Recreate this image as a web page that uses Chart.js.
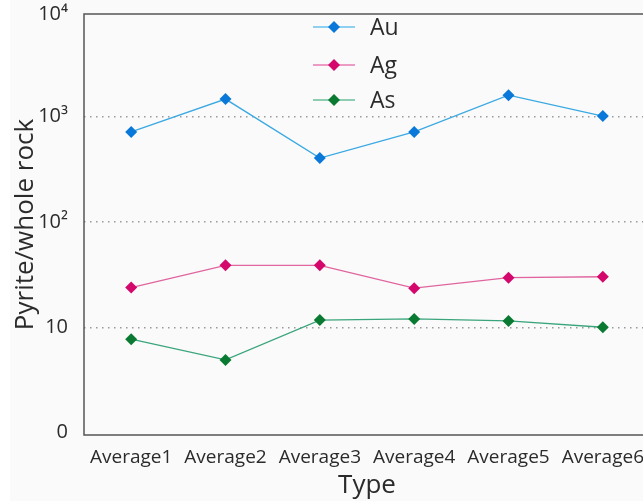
<!DOCTYPE html>
<html>
<head>
<meta charset="utf-8">
<script src="https://cdn.jsdelivr.net/npm/chart.js@4.4.1/dist/chart.umd.min.js"></script>
<style>
  html, body { margin: 0; padding: 0; background: #ffffff; overflow: hidden; }
  #wrap { position: absolute; left: 10px; top: 0; width: 680px; height: 501px; background: #fafafa; }
</style>
</head>
<body>
<div id="wrap"><canvas id="myChart" width="680" height="501"></canvas></div>
<script>
// data
const categories = ["Average1", "Average2", "Average3", "Average4", "Average5", "Average6"];
const auValues = [716, 1470, 405, 716, 1600, 1015];
const agValues = [23.8, 38.8, 38.8, 23.5, 29.6, 30.2];
const asValues = [7.7, 4.9, 11.7, 12.0, 11.5, 10.0];
const yTickValues = [1, 10, 100, 1000];
const yTickLabels = ["0", "10", "10\u00B2", "10\u00B3", "10\u2074"];
const gridValues = [10, 100, 1000];

const FONT = "'Open Sans', sans-serif";
const TXT = "#2b2b2b";

// frame around the plot area (left, bottom, top; right is cut off)
const framePlugin = {
    id: "frame",
    beforeDatasetsDraw(chart) {
        const { ctx, chartArea: a } = chart;
        ctx.save();
        ctx.strokeStyle = "#555555";
        ctx.lineWidth = 1.5;
        ctx.beginPath();
        ctx.moveTo(a.left, a.top);
        ctx.lineTo(a.left, a.bottom);
        ctx.lineTo(a.right, a.bottom);
        ctx.lineTo(a.right, a.top);
        ctx.closePath();
        ctx.stroke();
        ctx.restore();
    }
};

// stacked legend at top centre
const legendPlugin = {
    id: "stackLegend",
    afterDraw(chart) {
        const { ctx } = chart;
        const x0 = 303, lineLen = 42, textX = 360;
        const ys = [27, 65, 100];
        ctx.save();
        chart.data.datasets.forEach((ds, i) => {
            const y = ys[i];
            ctx.strokeStyle = ds.legendLine;
            ctx.lineWidth = 2;
            ctx.beginPath();
            ctx.moveTo(x0, y);
            ctx.lineTo(x0 + lineLen, y);
            ctx.stroke();
            ctx.fillStyle = ds.pointBackgroundColor;
            const c = x0 + lineLen / 2, r = 6;
            ctx.beginPath();
            ctx.moveTo(c, y - r);
            ctx.lineTo(c + r, y);
            ctx.lineTo(c, y + r);
            ctx.lineTo(c - r, y);
            ctx.closePath();
            ctx.fill();
            ctx.fillStyle = TXT;
            ctx.font = "23px " + FONT;
            ctx.textBaseline = "middle";
            ctx.textAlign = "left";
            ctx.fillText(ds.label, textX, y + 1);
        });
        ctx.restore();
    }
};

function series(label, data, line, marker, legendLine) {
    return {
        label: label,
        data: data,
        borderColor: line,
        borderWidth: 1.3,
        backgroundColor: marker,
        pointBackgroundColor: marker,
        pointBorderColor: marker,
        pointStyle: "rectRot",
        pointRadius: 6,
        pointBorderWidth: 0,
        tension: 0,
        legendLine: legendLine
    };
}

new Chart(document.getElementById("myChart"), {
    type: "line",
    data: {
        labels: categories,
        datasets: [
            series("Au", auValues, "#3aa9e2", "#0a78d8", "#8fd0f0"),
            series("Ag", agValues, "#e0649e", "#d4086c", "#ec9cc4"),
            series("As", asValues, "#3aa57c", "#0a7a32", "#8fcdb3")
        ]
    },
    options: {
        responsive: false,
        animation: false,
        layout: { padding: { top: 14, right: 40, left: 0, bottom: 0 } },
        plugins: { legend: { display: false }, tooltip: { enabled: false } },
        scales: {
            x: {
                type: "category",
                offset: true,
                grid: { display: false, drawTicks: false },
                border: { display: false },
                ticks: {
                    color: TXT,
                    font: { family: FONT, size: 19 },
                    padding: 11,
                    autoSkip: false,
                    maxRotation: 0
                },
                title: {
                    display: true,
                    text: "Type",
                    color: TXT,
                    font: { family: FONT, size: 26 },
                    padding: { top: 0, bottom: 0 }
                },
                afterFit(scale) { scale.height = 66; scale.paddingLeft = 0; scale.paddingRight = 0; }
            },
            y: {
                type: "logarithmic",
                min: 0.948,
                max: 9450,
                grid: {
                    drawTicks: false,
                    lineWidth: 1.5,
                    color: (c) => (c.tick && gridValues.includes(c.tick.value)) ? "#9a9a9a" : "rgba(0,0,0,0)"
                },
                border: { display: false, dash: [1.5, 4.5] },
                afterBuildTicks(scale) {
                    scale.ticks = yTickValues.concat([scale.max]).map(v => ({ value: v }));
                },
                ticks: {
                    color: TXT,
                    font: { family: FONT, size: 20 },
                    padding: 16,
                    callback: (v, i) => yTickLabels[i]
                },
                title: {
                    display: true,
                    text: "Pyrite/whole rock",
                    color: TXT,
                    font: { family: FONT, size: 26 },
                    padding: { top: 0, bottom: 0 }
                },
                afterFit(scale) { scale.width = 74; scale.paddingTop = 0; scale.paddingBottom = 0; }
            }
        }
    },
    plugins: [framePlugin, legendPlugin]
});
</script>
</body>
</html>
